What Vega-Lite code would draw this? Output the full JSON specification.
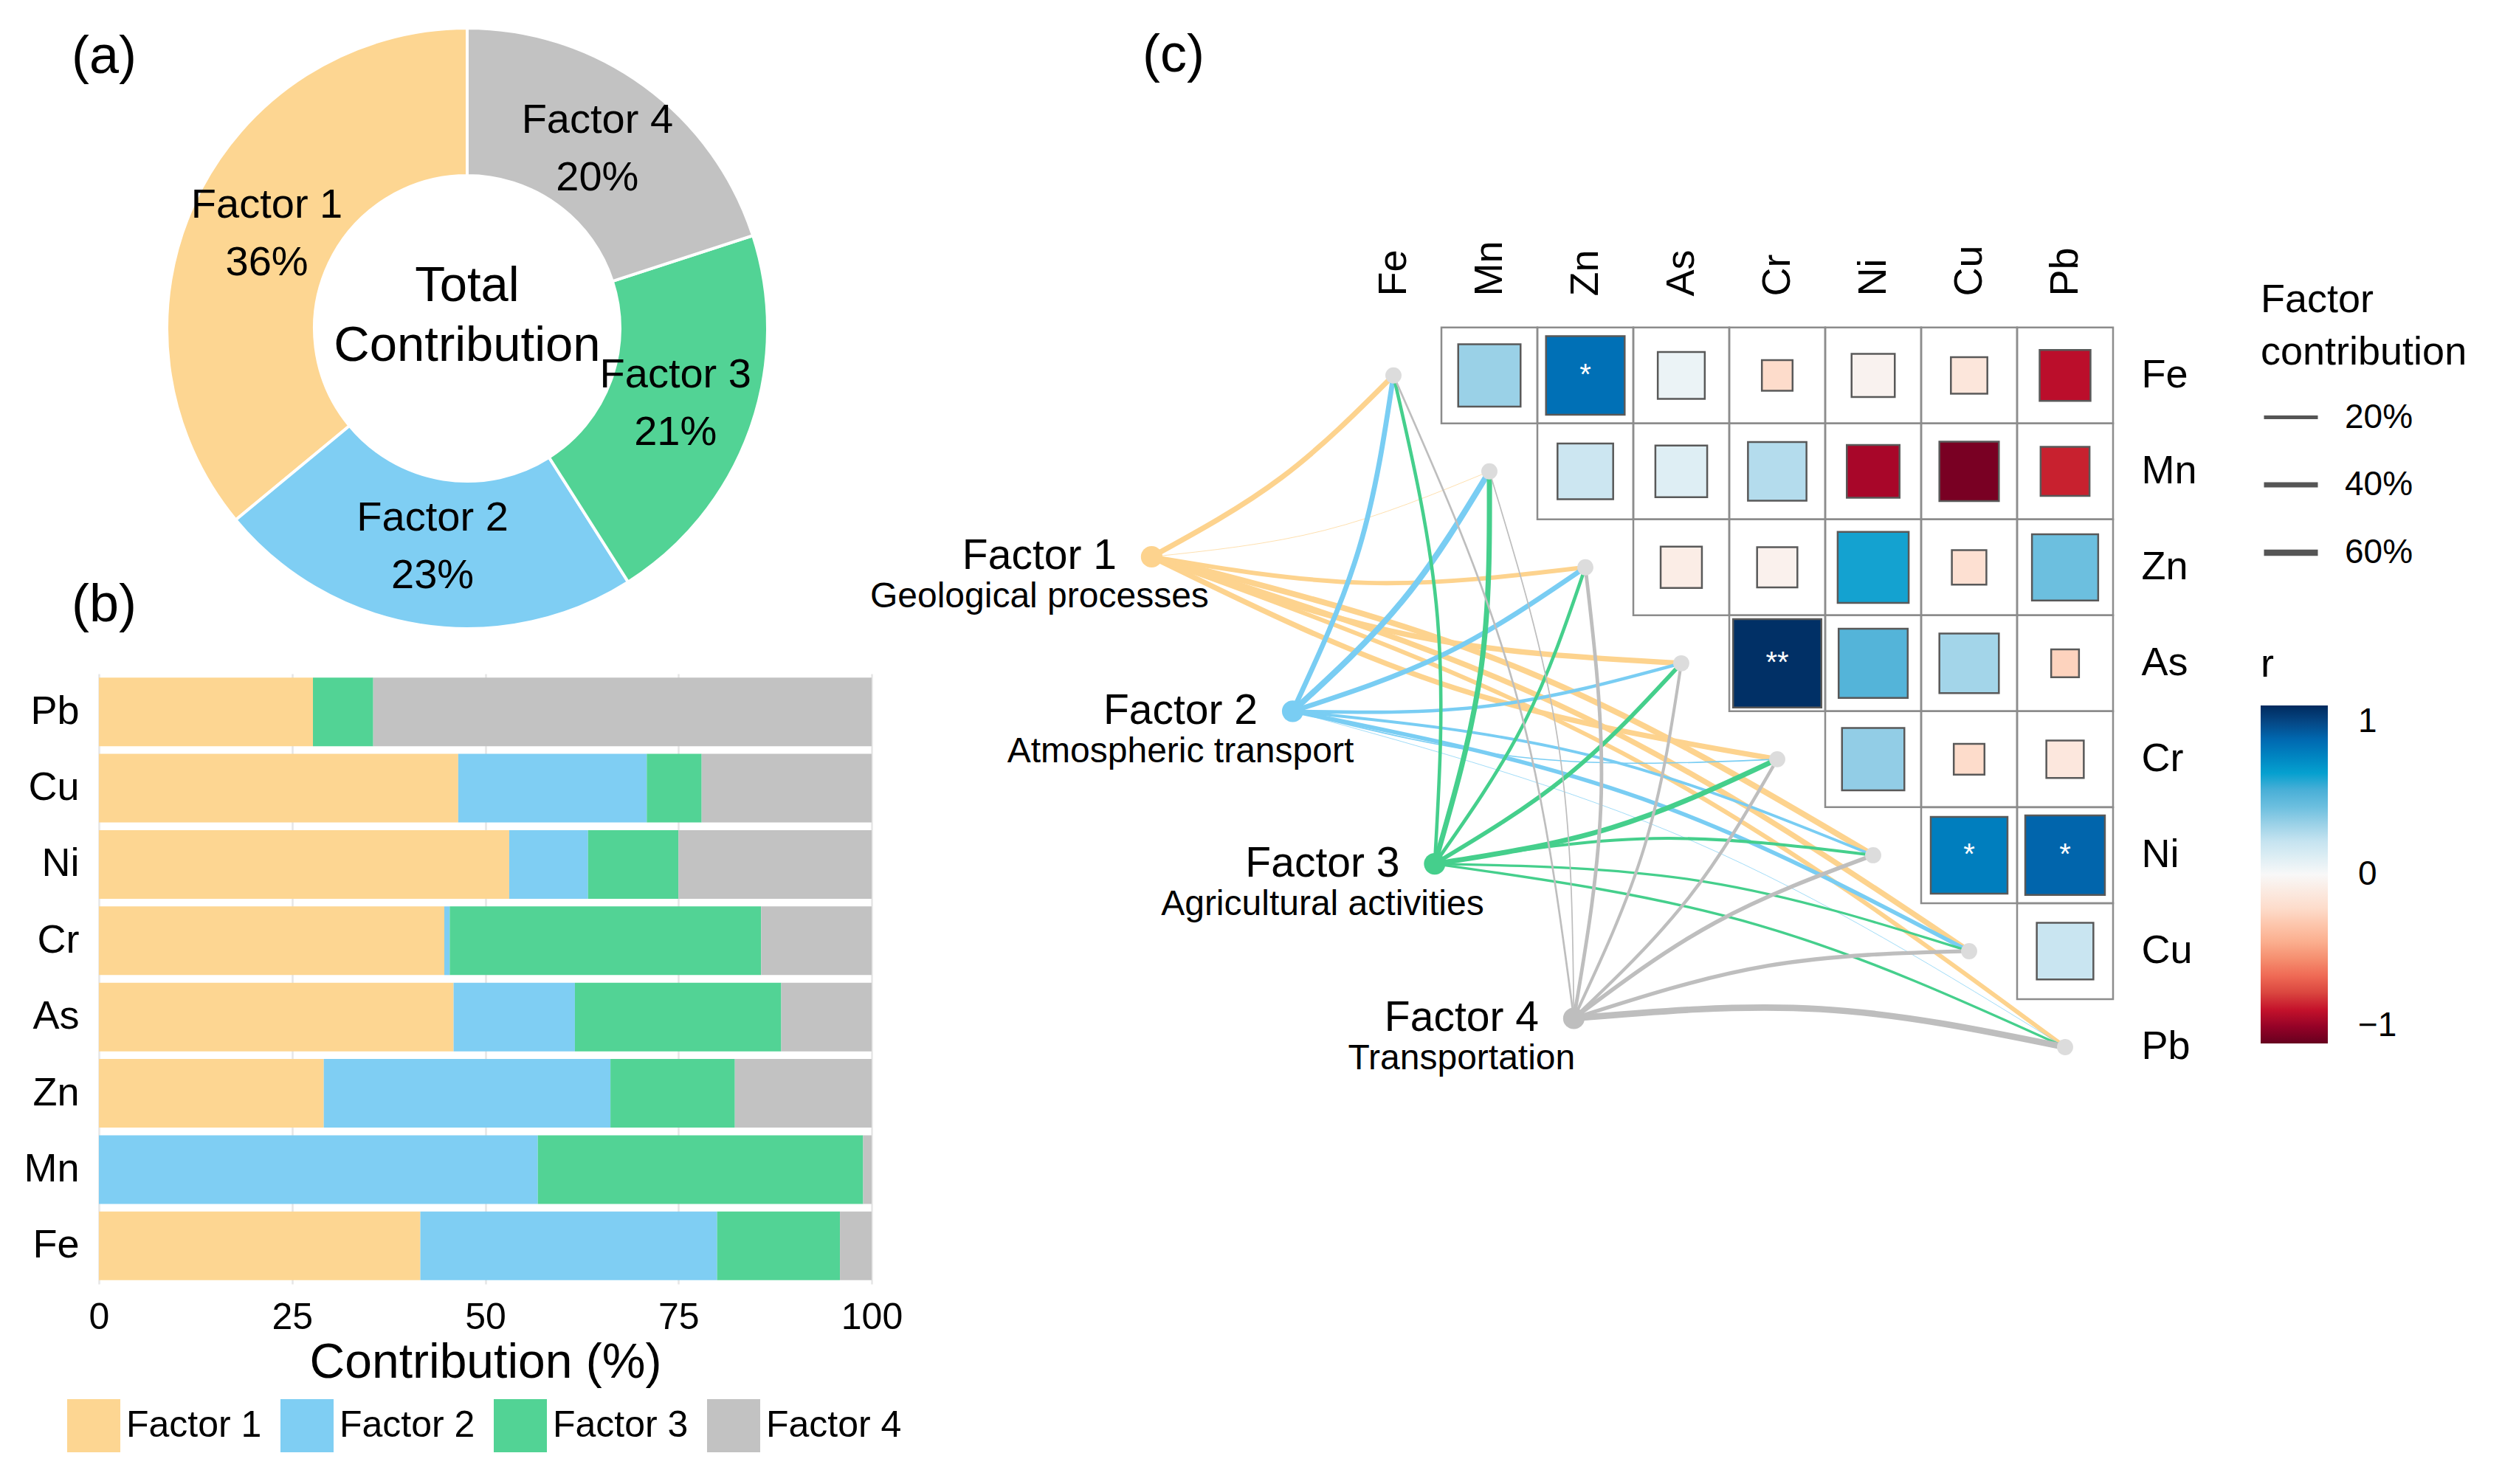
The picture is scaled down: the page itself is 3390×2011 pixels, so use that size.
{
  "$schema": "https://vega.github.io/schema/vega-lite/v6.json",
  "padding": {"left": 31, "top": 30, "right": 0, "bottom": 0},
  "spacing": -45,
  "config": {
    "font": "Liberation Sans",
    "view": {"stroke": null},
    "axis": {"labelColor": "#000000", "titleColor": "#000000", "labelFont": "Liberation Sans", "titleFont": "Liberation Sans"},
    "legend": {"labelColor": "#000000", "titleColor": "#000000", "labelFont": "Liberation Sans", "titleFont": "Liberation Sans", "padding": 0, "labelLimit": 600, "titleLimit": 900},
    "title": {"color": "#000000", "fontWeight": "normal", "font": "Liberation Sans"}
  },
  "resolve": {"scale": {"color": "independent"}, "legend": {"color": "independent"}},
  "datasets": {
    "donut": [
      {"factor": "Factor 1", "share": 0.36},
      {"factor": "Factor 2", "share": 0.23},
      {"factor": "Factor 3", "share": 0.21},
      {"factor": "Factor 4", "share": 0.20}
    ],
    "bars": [
      {"element": "Pb", "factor": "Factor 1", "contribution": 27.7},
      {"element": "Pb", "factor": "Factor 2", "contribution": 0},
      {"element": "Pb", "factor": "Factor 3", "contribution": 7.8},
      {"element": "Pb", "factor": "Factor 4", "contribution": 64.5},
      {"element": "Cu", "factor": "Factor 1", "contribution": 46.5},
      {"element": "Cu", "factor": "Factor 2", "contribution": 24.4},
      {"element": "Cu", "factor": "Factor 3", "contribution": 7.1},
      {"element": "Cu", "factor": "Factor 4", "contribution": 22.0},
      {"element": "Ni", "factor": "Factor 1", "contribution": 53.1},
      {"element": "Ni", "factor": "Factor 2", "contribution": 10.2},
      {"element": "Ni", "factor": "Factor 3", "contribution": 11.7},
      {"element": "Ni", "factor": "Factor 4", "contribution": 25.0},
      {"element": "Cr", "factor": "Factor 1", "contribution": 44.7},
      {"element": "Cr", "factor": "Factor 2", "contribution": 0.7},
      {"element": "Cr", "factor": "Factor 3", "contribution": 40.3},
      {"element": "Cr", "factor": "Factor 4", "contribution": 14.3},
      {"element": "As", "factor": "Factor 1", "contribution": 45.9},
      {"element": "As", "factor": "Factor 2", "contribution": 15.7},
      {"element": "As", "factor": "Factor 3", "contribution": 26.7},
      {"element": "As", "factor": "Factor 4", "contribution": 11.7},
      {"element": "Zn", "factor": "Factor 1", "contribution": 29.1},
      {"element": "Zn", "factor": "Factor 2", "contribution": 37.1},
      {"element": "Zn", "factor": "Factor 3", "contribution": 16.1},
      {"element": "Zn", "factor": "Factor 4", "contribution": 17.7},
      {"element": "Mn", "factor": "Factor 1", "contribution": 0},
      {"element": "Mn", "factor": "Factor 2", "contribution": 56.8},
      {"element": "Mn", "factor": "Factor 3", "contribution": 42.1},
      {"element": "Mn", "factor": "Factor 4", "contribution": 1.1},
      {"element": "Fe", "factor": "Factor 1", "contribution": 41.6},
      {"element": "Fe", "factor": "Factor 2", "contribution": 38.4},
      {"element": "Fe", "factor": "Factor 3", "contribution": 15.9},
      {"element": "Fe", "factor": "Factor 4", "contribution": 4.1}
    ],
    "corr": [
      {"row": "Fe", "col": "Mn", "u": 1, "v": 0, "r": 0.30, "m": 0.65, "sig": ""},
      {"row": "Fe", "col": "Zn", "u": 2, "v": 0, "r": 0.77, "m": 0.82, "sig": "*"},
      {"row": "Fe", "col": "As", "u": 3, "v": 0, "r": 0.05, "m": 0.49, "sig": ""},
      {"row": "Fe", "col": "Cr", "u": 4, "v": 0, "r": -0.20, "m": 0.32, "sig": ""},
      {"row": "Fe", "col": "Ni", "u": 5, "v": 0, "r": -0.04, "m": 0.45, "sig": ""},
      {"row": "Fe", "col": "Cu", "u": 6, "v": 0, "r": -0.13, "m": 0.38, "sig": ""},
      {"row": "Fe", "col": "Pb", "u": 7, "v": 0, "r": -0.82, "m": 0.53, "sig": ""},
      {"row": "Mn", "col": "Zn", "u": 2, "v": 1, "r": 0.17, "m": 0.58, "sig": ""},
      {"row": "Mn", "col": "As", "u": 3, "v": 1, "r": 0.10, "m": 0.54, "sig": ""},
      {"row": "Mn", "col": "Cr", "u": 4, "v": 1, "r": 0.24, "m": 0.61, "sig": ""},
      {"row": "Mn", "col": "Ni", "u": 5, "v": 1, "r": -0.86, "m": 0.55, "sig": ""},
      {"row": "Mn", "col": "Cu", "u": 6, "v": 1, "r": -0.96, "m": 0.62, "sig": ""},
      {"row": "Mn", "col": "Pb", "u": 7, "v": 1, "r": -0.78, "m": 0.51, "sig": ""},
      {"row": "Zn", "col": "As", "u": 3, "v": 2, "r": -0.08, "m": 0.43, "sig": ""},
      {"row": "Zn", "col": "Cr", "u": 4, "v": 2, "r": -0.05, "m": 0.42, "sig": ""},
      {"row": "Zn", "col": "Ni", "u": 5, "v": 2, "r": 0.59, "m": 0.74, "sig": ""},
      {"row": "Zn", "col": "Cu", "u": 6, "v": 2, "r": -0.17, "m": 0.36, "sig": ""},
      {"row": "Zn", "col": "Pb", "u": 7, "v": 2, "r": 0.40, "m": 0.69, "sig": ""},
      {"row": "As", "col": "Cr", "u": 4, "v": 3, "r": 0.98, "m": 0.92, "sig": "**"},
      {"row": "As", "col": "Ni", "u": 5, "v": 3, "r": 0.47, "m": 0.72, "sig": ""},
      {"row": "As", "col": "Cu", "u": 6, "v": 3, "r": 0.28, "m": 0.62, "sig": ""},
      {"row": "As", "col": "Pb", "u": 7, "v": 3, "r": -0.24, "m": 0.29, "sig": ""},
      {"row": "Cr", "col": "Ni", "u": 5, "v": 4, "r": 0.32, "m": 0.65, "sig": ""},
      {"row": "Cr", "col": "Cu", "u": 6, "v": 4, "r": -0.20, "m": 0.32, "sig": ""},
      {"row": "Cr", "col": "Pb", "u": 7, "v": 4, "r": -0.12, "m": 0.39, "sig": ""},
      {"row": "Ni", "col": "Cu", "u": 6, "v": 5, "r": 0.72, "m": 0.80, "sig": "*"},
      {"row": "Ni", "col": "Pb", "u": 7, "v": 5, "r": 0.81, "m": 0.83, "sig": "*"},
      {"row": "Cu", "col": "Pb", "u": 7, "v": 6, "r": 0.18, "m": 0.59, "sig": ""}
    ],
    "elements": [
      {"element": "Fe", "u": 0, "v": 0},
      {"element": "Mn", "u": 1, "v": 1},
      {"element": "Zn", "u": 2, "v": 2},
      {"element": "As", "u": 3, "v": 3},
      {"element": "Cr", "u": 4, "v": 4},
      {"element": "Ni", "u": 5, "v": 5},
      {"element": "Cu", "u": 6, "v": 6},
      {"element": "Pb", "u": 7, "v": 7}
    ],
    "factors": [
      {"factor": "Factor 1", "source": "Geological processes", "u": -2.52, "v": 1.89},
      {"factor": "Factor 2", "source": "Atmospheric transport", "u": -1.05, "v": 3.50},
      {"factor": "Factor 3", "source": "Agricultural activities", "u": 0.43, "v": 5.09},
      {"factor": "Factor 4", "source": "Transportation", "u": 1.88, "v": 6.70}
    ],
    "links": [
      {"link": "F1-Fe", "factor": "Factor 1", "contribution": 41.6, "pt": 0, "u": -2.52, "v": 1.89},
      {"link": "F1-Fe", "factor": "Factor 1", "contribution": 41.6, "pt": 1, "u": -1.169, "v": 1.066},
      {"link": "F1-Fe", "factor": "Factor 1", "contribution": 41.6, "pt": 2, "u": 0, "v": 0},
      {"link": "F1-Mn", "factor": "Factor 1", "contribution": 0, "pt": 0, "u": -2.52, "v": 1.89},
      {"link": "F1-Mn", "factor": "Factor 1", "contribution": 0, "pt": 1, "u": -0.717, "v": 1.614},
      {"link": "F1-Mn", "factor": "Factor 1", "contribution": 0, "pt": 2, "u": 1, "v": 1},
      {"link": "F1-Zn", "factor": "Factor 1", "contribution": 29.1, "pt": 0, "u": -2.52, "v": 1.89},
      {"link": "F1-Zn", "factor": "Factor 1", "contribution": 29.1, "pt": 1, "u": -0.265, "v": 2.162},
      {"link": "F1-Zn", "factor": "Factor 1", "contribution": 29.1, "pt": 2, "u": 2, "v": 2},
      {"link": "F1-As", "factor": "Factor 1", "contribution": 45.9, "pt": 0, "u": -2.52, "v": 1.89},
      {"link": "F1-As", "factor": "Factor 1", "contribution": 45.9, "pt": 1, "u": 0.187, "v": 2.710},
      {"link": "F1-As", "factor": "Factor 1", "contribution": 45.9, "pt": 2, "u": 3, "v": 3},
      {"link": "F1-Cr", "factor": "Factor 1", "contribution": 44.7, "pt": 0, "u": -2.52, "v": 1.89},
      {"link": "F1-Cr", "factor": "Factor 1", "contribution": 44.7, "pt": 1, "u": 0.639, "v": 3.258},
      {"link": "F1-Cr", "factor": "Factor 1", "contribution": 44.7, "pt": 2, "u": 4, "v": 4},
      {"link": "F1-Ni", "factor": "Factor 1", "contribution": 53.1, "pt": 0, "u": -2.52, "v": 1.89},
      {"link": "F1-Ni", "factor": "Factor 1", "contribution": 53.1, "pt": 1, "u": 1.389, "v": 3.084},
      {"link": "F1-Ni", "factor": "Factor 1", "contribution": 53.1, "pt": 2, "u": 5, "v": 5},
      {"link": "F1-Cu", "factor": "Factor 1", "contribution": 46.5, "pt": 0, "u": -2.52, "v": 1.89},
      {"link": "F1-Cu", "factor": "Factor 1", "contribution": 46.5, "pt": 1, "u": 1.937, "v": 3.536},
      {"link": "F1-Cu", "factor": "Factor 1", "contribution": 46.5, "pt": 2, "u": 6, "v": 6},
      {"link": "F1-Pb", "factor": "Factor 1", "contribution": 27.7, "pt": 0, "u": -2.52, "v": 1.89},
      {"link": "F1-Pb", "factor": "Factor 1", "contribution": 27.7, "pt": 1, "u": 2.485, "v": 3.988},
      {"link": "F1-Pb", "factor": "Factor 1", "contribution": 27.7, "pt": 2, "u": 7, "v": 7},
      {"link": "F2-Fe", "factor": "Factor 2", "contribution": 38.4, "pt": 0, "u": -1.05, "v": 3.50},
      {"link": "F2-Fe", "factor": "Factor 2", "contribution": 38.4, "pt": 1, "u": -0.357, "v": 1.800},
      {"link": "F2-Fe", "factor": "Factor 2", "contribution": 38.4, "pt": 2, "u": 0, "v": 0},
      {"link": "F2-Mn", "factor": "Factor 2", "contribution": 56.8, "pt": 0, "u": -1.05, "v": 3.50},
      {"link": "F2-Mn", "factor": "Factor 2", "contribution": 56.8, "pt": 1, "u": 0.095, "v": 2.348},
      {"link": "F2-Mn", "factor": "Factor 2", "contribution": 56.8, "pt": 2, "u": 1, "v": 1},
      {"link": "F2-Zn", "factor": "Factor 2", "contribution": 37.1, "pt": 0, "u": -1.05, "v": 3.50},
      {"link": "F2-Zn", "factor": "Factor 2", "contribution": 37.1, "pt": 1, "u": 0.547, "v": 2.896},
      {"link": "F2-Zn", "factor": "Factor 2", "contribution": 37.1, "pt": 2, "u": 2, "v": 2},
      {"link": "F2-As", "factor": "Factor 2", "contribution": 15.7, "pt": 0, "u": -1.05, "v": 3.50},
      {"link": "F2-As", "factor": "Factor 2", "contribution": 15.7, "pt": 1, "u": 0.999, "v": 3.444},
      {"link": "F2-As", "factor": "Factor 2", "contribution": 15.7, "pt": 2, "u": 3, "v": 3},
      {"link": "F2-Cr", "factor": "Factor 2", "contribution": 0.7, "pt": 0, "u": -1.05, "v": 3.50},
      {"link": "F2-Cr", "factor": "Factor 2", "contribution": 0.7, "pt": 1, "u": 1.451, "v": 3.992},
      {"link": "F2-Cr", "factor": "Factor 2", "contribution": 0.7, "pt": 2, "u": 4, "v": 4},
      {"link": "F2-Ni", "factor": "Factor 2", "contribution": 10.2, "pt": 0, "u": -1.05, "v": 3.50},
      {"link": "F2-Ni", "factor": "Factor 2", "contribution": 10.2, "pt": 1, "u": 2.047, "v": 3.960},
      {"link": "F2-Ni", "factor": "Factor 2", "contribution": 10.2, "pt": 2, "u": 5, "v": 5},
      {"link": "F2-Cu", "factor": "Factor 2", "contribution": 24.4, "pt": 0, "u": -1.05, "v": 3.50},
      {"link": "F2-Cu", "factor": "Factor 2", "contribution": 24.4, "pt": 1, "u": 2.595, "v": 4.412},
      {"link": "F2-Cu", "factor": "Factor 2", "contribution": 24.4, "pt": 2, "u": 6, "v": 6},
      {"link": "F2-Pb", "factor": "Factor 2", "contribution": 0, "pt": 0, "u": -1.05, "v": 3.50},
      {"link": "F2-Pb", "factor": "Factor 2", "contribution": 0, "pt": 1, "u": 3.143, "v": 4.864},
      {"link": "F2-Pb", "factor": "Factor 2", "contribution": 0, "pt": 2, "u": 7, "v": 7},
      {"link": "F3-Fe", "factor": "Factor 3", "contribution": 15.9, "pt": 0, "u": 0.43, "v": 5.09},
      {"link": "F3-Fe", "factor": "Factor 3", "contribution": 15.9, "pt": 1, "u": 0.459, "v": 2.524},
      {"link": "F3-Fe", "factor": "Factor 3", "contribution": 15.9, "pt": 2, "u": 0, "v": 0},
      {"link": "F3-Mn", "factor": "Factor 3", "contribution": 42.1, "pt": 0, "u": 0.43, "v": 5.09},
      {"link": "F3-Mn", "factor": "Factor 3", "contribution": 42.1, "pt": 1, "u": 0.911, "v": 3.072},
      {"link": "F3-Mn", "factor": "Factor 3", "contribution": 42.1, "pt": 2, "u": 1, "v": 1},
      {"link": "F3-Zn", "factor": "Factor 3", "contribution": 16.1, "pt": 0, "u": 0.43, "v": 5.09},
      {"link": "F3-Zn", "factor": "Factor 3", "contribution": 16.1, "pt": 1, "u": 1.363, "v": 3.620},
      {"link": "F3-Zn", "factor": "Factor 3", "contribution": 16.1, "pt": 2, "u": 2, "v": 2},
      {"link": "F3-As", "factor": "Factor 3", "contribution": 26.7, "pt": 0, "u": 0.43, "v": 5.09},
      {"link": "F3-As", "factor": "Factor 3", "contribution": 26.7, "pt": 1, "u": 1.815, "v": 4.168},
      {"link": "F3-As", "factor": "Factor 3", "contribution": 26.7, "pt": 2, "u": 3, "v": 3},
      {"link": "F3-Cr", "factor": "Factor 3", "contribution": 40.3, "pt": 0, "u": 0.43, "v": 5.09},
      {"link": "F3-Cr", "factor": "Factor 3", "contribution": 40.3, "pt": 1, "u": 2.267, "v": 4.716},
      {"link": "F3-Cr", "factor": "Factor 3", "contribution": 40.3, "pt": 2, "u": 4, "v": 4},
      {"link": "F3-Ni", "factor": "Factor 3", "contribution": 11.7, "pt": 0, "u": 0.43, "v": 5.09},
      {"link": "F3-Ni", "factor": "Factor 3", "contribution": 11.7, "pt": 1, "u": 2.711, "v": 4.826},
      {"link": "F3-Ni", "factor": "Factor 3", "contribution": 11.7, "pt": 2, "u": 5, "v": 5},
      {"link": "F3-Cu", "factor": "Factor 3", "contribution": 7.1, "pt": 0, "u": 0.43, "v": 5.09},
      {"link": "F3-Cu", "factor": "Factor 3", "contribution": 7.1, "pt": 1, "u": 3.259, "v": 5.278},
      {"link": "F3-Cu", "factor": "Factor 3", "contribution": 7.1, "pt": 2, "u": 6, "v": 6},
      {"link": "F3-Pb", "factor": "Factor 3", "contribution": 7.8, "pt": 0, "u": 0.43, "v": 5.09},
      {"link": "F3-Pb", "factor": "Factor 3", "contribution": 7.8, "pt": 1, "u": 3.807, "v": 5.730},
      {"link": "F3-Pb", "factor": "Factor 3", "contribution": 7.8, "pt": 2, "u": 7, "v": 7},
      {"link": "F4-Fe", "factor": "Factor 4", "contribution": 4.1, "pt": 0, "u": 1.88, "v": 6.70},
      {"link": "F4-Fe", "factor": "Factor 4", "contribution": 4.1, "pt": 1, "u": 1.262, "v": 3.260},
      {"link": "F4-Fe", "factor": "Factor 4", "contribution": 4.1, "pt": 2, "u": 0, "v": 0},
      {"link": "F4-Mn", "factor": "Factor 4", "contribution": 1.1, "pt": 0, "u": 1.88, "v": 6.70},
      {"link": "F4-Mn", "factor": "Factor 4", "contribution": 1.1, "pt": 1, "u": 1.714, "v": 3.808},
      {"link": "F4-Mn", "factor": "Factor 4", "contribution": 1.1, "pt": 2, "u": 1, "v": 1},
      {"link": "F4-Zn", "factor": "Factor 4", "contribution": 17.7, "pt": 0, "u": 1.88, "v": 6.70},
      {"link": "F4-Zn", "factor": "Factor 4", "contribution": 17.7, "pt": 1, "u": 2.166, "v": 4.356},
      {"link": "F4-Zn", "factor": "Factor 4", "contribution": 17.7, "pt": 2, "u": 2, "v": 2},
      {"link": "F4-As", "factor": "Factor 4", "contribution": 11.7, "pt": 0, "u": 1.88, "v": 6.70},
      {"link": "F4-As", "factor": "Factor 4", "contribution": 11.7, "pt": 1, "u": 2.618, "v": 4.904},
      {"link": "F4-As", "factor": "Factor 4", "contribution": 11.7, "pt": 2, "u": 3, "v": 3},
      {"link": "F4-Cr", "factor": "Factor 4", "contribution": 14.3, "pt": 0, "u": 1.88, "v": 6.70},
      {"link": "F4-Cr", "factor": "Factor 4", "contribution": 14.3, "pt": 1, "u": 3.070, "v": 5.452},
      {"link": "F4-Cr", "factor": "Factor 4", "contribution": 14.3, "pt": 2, "u": 4, "v": 4},
      {"link": "F4-Ni", "factor": "Factor 4", "contribution": 25.0, "pt": 0, "u": 1.88, "v": 6.70},
      {"link": "F4-Ni", "factor": "Factor 4", "contribution": 25.0, "pt": 1, "u": 3.358, "v": 5.700},
      {"link": "F4-Ni", "factor": "Factor 4", "contribution": 25.0, "pt": 2, "u": 5, "v": 5},
      {"link": "F4-Cu", "factor": "Factor 4", "contribution": 22.0, "pt": 0, "u": 1.88, "v": 6.70},
      {"link": "F4-Cu", "factor": "Factor 4", "contribution": 22.0, "pt": 1, "u": 3.906, "v": 6.152},
      {"link": "F4-Cu", "factor": "Factor 4", "contribution": 22.0, "pt": 2, "u": 6, "v": 6},
      {"link": "F4-Pb", "factor": "Factor 4", "contribution": 64.5, "pt": 0, "u": 1.88, "v": 6.70},
      {"link": "F4-Pb", "factor": "Factor 4", "contribution": 64.5, "pt": 1, "u": 4.454, "v": 6.604},
      {"link": "F4-Pb", "factor": "Factor 4", "contribution": 64.5, "pt": 2, "u": 7, "v": 7}
    ]
  },
  "hconcat": [
    {
      "spacing": 61,
      "bounds": "flush",
      "resolve": {"scale": {"color": "independent"}, "legend": {"color": "independent"}},
      "vconcat": [
        {
          "width": 998,
          "height": 814,
          "title": {"text": "(a)", "anchor": "start", "frame": "group", "orient": "top", "baseline": "top", "offset": -84, "dx": -37, "fontSize": 72},
          "data": {"name": "donut"},
          "layer": [
            {
              "mark": {"type": "arc", "innerRadius": 207, "outerRadius": 407, "stroke": "#ffffff", "strokeWidth": 4},
              "encoding": {
                "theta": {"field": "share", "type": "quantitative", "stack": true},
                "order": {"field": "factor", "type": "nominal", "sort": "descending"},
                "color": {"field": "factor", "type": "nominal", "scale": {"domain": ["Factor 1", "Factor 2", "Factor 3", "Factor 4"], "range": ["#FDD692", "#7FCEF3", "#52D395", "#C2C2C2"]}, "legend": null}
              }
            },
            {
              "mark": {"type": "text", "radius": 300, "fontSize": 56, "dy": -39, "color": "#000000"},
              "encoding": {
                "theta": {"field": "share", "type": "quantitative", "stack": true},
                "order": {"field": "factor", "type": "nominal", "sort": "descending"},
                "text": {"field": "factor", "type": "nominal"}
              }
            },
            {
              "mark": {"type": "text", "radius": 300, "fontSize": 56, "dy": 39, "color": "#000000"},
              "encoding": {
                "theta": {"field": "share", "type": "quantitative", "stack": true},
                "order": {"field": "factor", "type": "nominal", "sort": "descending"},
                "text": {"field": "share", "type": "quantitative", "format": ".0%"}
              }
            },
            {
              "data": {"values": [{"label": "Total\nContribution"}]},
              "mark": {"type": "text", "fontSize": 67, "lineBreak": "\n", "lineHeight": 81, "dy": -57, "color": "#000000"},
              "encoding": {"text": {"field": "label", "type": "nominal"}}
            }
          ]
        },
        {
          "width": 1047,
          "height": 827,
          "title": {"text": "(b)", "anchor": "start", "frame": "group", "orient": "top", "baseline": "top", "offset": 56, "dx": -37, "fontSize": 72},
          "data": {"name": "bars"},
          "mark": {"type": "bar"},
          "encoding": {
            "y": {"field": "element", "type": "nominal", "sort": ["Pb", "Cu", "Ni", "Cr", "As", "Zn", "Mn", "Fe"], "scale": {"paddingInner": 0.1, "paddingOuter": 0.05}, "axis": {"title": null, "labelFontSize": 54, "labelPadding": 27, "ticks": false, "domain": false, "grid": false}},
            "x": {"field": "contribution", "type": "quantitative", "stack": "zero", "scale": {"domain": [0, 100], "nice": false}, "axis": {"title": "Contribution (%)", "titleFontSize": 66, "titleFontWeight": "normal", "titlePadding": 4, "labelFontSize": 50, "labelPadding": 20, "values": [0, 25, 50, 75, 100], "ticks": false, "domain": false, "grid": true, "gridColor": "#e6e6e6", "gridWidth": 2.5, "labelFlush": false}},
            "color": {"field": "factor", "type": "nominal", "scale": {"domain": ["Factor 1", "Factor 2", "Factor 3", "Factor 4"], "range": ["#FDD692", "#7FCEF3", "#52D395", "#C2C2C2"]}, "legend": {"title": null, "orient": "none", "legendX": -43, "legendY": 983, "direction": "horizontal", "symbolType": "square", "symbolSize": 5184, "symbolStrokeWidth": 0, "labelFontSize": 50, "labelOffset": 8, "columnPadding": 25, "labelLimit": 600}},
            "order": {"field": "factor", "type": "nominal", "sort": "ascending"}
          }
        }
      ]
    },
    {
      "width": 1625,
      "height": 1446,
      "title": {"text": "(c)", "anchor": "start", "frame": "group", "orient": "top", "baseline": "top", "offset": -74, "dx": 310, "fontSize": 72},
      "encoding": {
        "x": {"field": "u", "type": "quantitative", "scale": {"domain": [-5, 7.5], "nice": false, "zero": false}, "axis": {"orient": "top", "values": [0, 1, 2, 3, 4, 5, 6, 7], "labelExpr": "['Fe','Mn','Zn','As','Cr','Ni','Cu','Pb'][datum.value]", "labelAngle": 270, "labelAlign": "left", "labelBaseline": "middle", "labelFontSize": 54, "labelPadding": 0, "ticks": false, "tickSize": 0, "domain": false, "grid": false, "title": null, "offset": -363, "labelOverlap": false, "labelFlush": false}},
        "y": {"field": "v", "type": "quantitative", "scale": {"domain": [-3.62, 7.5], "nice": false, "zero": false, "reverse": true}, "axis": {"orient": "right", "values": [0, 1, 2, 3, 4, 5, 6, 7], "labelExpr": "['Fe','Mn','Zn','As','Cr','Ni','Cu','Pb'][datum.value]", "labelFontSize": 54, "labelPadding": 38, "ticks": false, "tickSize": 0, "domain": false, "grid": false, "title": null, "labelOverlap": false, "labelFlush": false}}
      },
      "layer": [
        {
          "data": {"name": "corr"},
          "mark": {"type": "point", "shape": "square", "size": 16900, "filled": false, "stroke": "#8c8c8c", "strokeWidth": 2.5, "opacity": 1}
        },
        {
          "data": {"name": "links"},
          "mark": {"type": "line", "interpolate": "natural", "strokeCap": "round"},
          "encoding": {
            "detail": {"field": "link", "type": "nominal"},
            "order": {"field": "pt", "type": "quantitative"},
            "stroke": {"field": "factor", "type": "nominal", "scale": {"domain": ["Factor 1", "Factor 2", "Factor 3", "Factor 4"], "range": ["#FDD38E", "#79CDF3", "#45CF8C", "#BEBEBE"]}, "legend": null},
            "strokeWidth": {"field": "contribution", "type": "quantitative", "scale": {"type": "sqrt", "domain": [0, 65], "range": [0.7, 8.6], "zero": false}, "legend": {"title": ["Factor", "contribution"], "orient": "none", "legendX": 2929, "legendY": 342, "direction": "vertical", "values": [20, 40, 60], "labelExpr": "datum.value + '%'", "symbolType": "stroke", "symbolStrokeColor": "#555555", "symbolSize": 5329, "titleFontSize": 54, "titleFontWeight": "normal", "titleLineHeight": 71, "titlePadding": 21, "titleLimit": 900, "labelFontSize": 46, "labelOffset": 32, "rowPadding": 28, "titleAnchor": "start"}}
          }
        },
        {
          "data": {"name": "corr"},
          "mark": {"type": "point", "shape": "square", "filled": true, "stroke": "#595959", "strokeWidth": 2.5, "opacity": 1},
          "encoding": {
            "fill": {"field": "r", "type": "quantitative", "scale": {"domain": [-1, -0.8, -0.6, -0.4, -0.2, 0, 0.2, 0.4, 0.6, 0.8, 1], "range": ["#67001f", "#c4122b", "#ef6a55", "#fbae8e", "#fddccb", "#f8f8f8", "#c4e3f0", "#6cbfdf", "#05a0cf", "#0068b0", "#002a5e"]}, "legend": {"title": "r", "orient": "none", "legendX": 2929, "legendY": 836, "direction": "vertical", "gradientLength": 458, "gradientThickness": 91, "gradientStrokeWidth": 0, "values": [-1, 0, 1], "labelExpr": "datum.value < 0 ? '\u22121' : (datum.value > 0 ? '1' : '0')", "labelFontSize": 46, "labelOffset": 41, "titleFontSize": 54, "titleFontWeight": "normal", "titlePadding": 28, "titleAnchor": "start"}},
            "size": {"field": "m", "type": "quantitative", "scale": {"type": "pow", "exponent": 2, "domain": [0, 1], "range": [0, 16900]}, "legend": null}
          }
        },
        {
          "data": {"name": "corr"},
          "mark": {"type": "text", "color": "#ffffff", "fontSize": 40, "baseline": "middle"},
          "encoding": {"text": {"field": "sig", "type": "nominal"}}
        },
        {
          "data": {"name": "elements"},
          "mark": {"type": "point", "shape": "circle", "filled": true, "size": 480, "color": "#dcdcdc", "opacity": 1}
        },
        {
          "data": {"name": "factors"},
          "mark": {"type": "point", "shape": "circle", "filled": true, "size": 850, "opacity": 1},
          "encoding": {"color": {"field": "factor", "type": "nominal", "scale": {"domain": ["Factor 1", "Factor 2", "Factor 3", "Factor 4"], "range": ["#FDD38E", "#79CDF3", "#45CF8C", "#BEBEBE"]}, "legend": null}}
        },
        {
          "data": {"name": "factors"},
          "mark": {"type": "text", "fontSize": 57, "dx": -152, "dy": 17, "baseline": "alphabetic", "align": "center", "color": "#000000"},
          "encoding": {"text": {"field": "factor", "type": "nominal"}}
        },
        {
          "data": {"name": "factors"},
          "mark": {"type": "text", "fontSize": 48, "dx": -152, "dy": 69, "baseline": "alphabetic", "align": "center", "color": "#000000"},
          "encoding": {"text": {"field": "source", "type": "nominal"}}
        }
      ]
    }
  ]
}
